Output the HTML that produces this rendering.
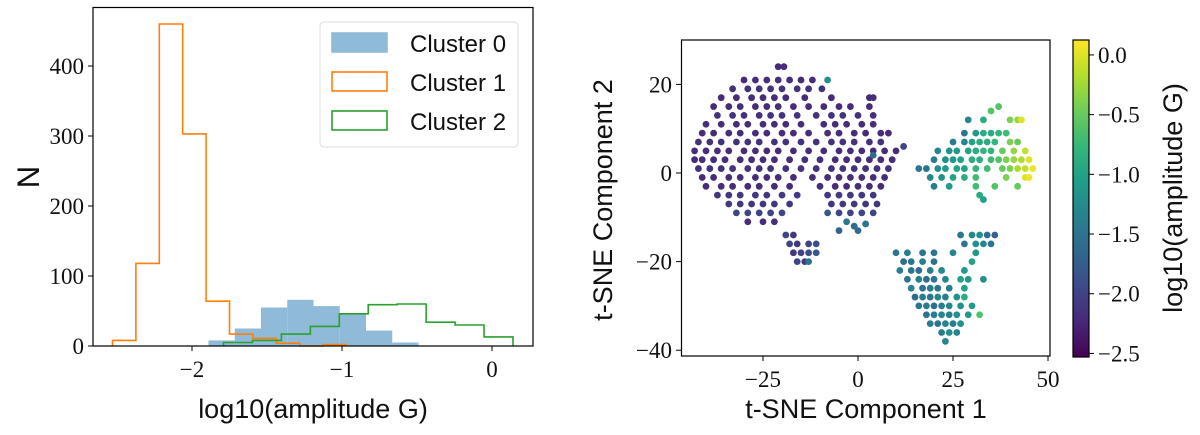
<!DOCTYPE html>
<html><head><meta charset="utf-8">
<style>
html,body{margin:0;padding:0;background:#fff;}
svg{display:block;}
.tick{font-family:"Liberation Serif",serif;font-size:23px;fill:#111;}
.lab{font-family:"Liberation Sans","DejaVu Sans",sans-serif;font-size:27px;fill:#111;}
.leg{font-family:"Liberation Sans","DejaVu Sans",sans-serif;font-size:24px;fill:#111;}
</style></head>
<body>
<svg id="fig" width="1200" height="435" xmlns="http://www.w3.org/2000/svg"></svg>
<script>
// ---------- Histogram data ----------
const c1Start = -2.53, c1Width = 0.156;
const c1Counts = [8,118,460,303,64,17,11,4,0,2];
const c0Start = -1.89, c0Width = 0.175;
const c0Counts = [8,25,55,66,57,45,22,5];
const c2Start = -1.79, c2Width = 0.193;
const c2Counts = [5,8,17,28,46,59,60,34,30,13];
const histXTicks = [-2,-1,0];
const histYTicks = [0,100,200,300,400];
const legendLabels = ["Cluster 0","Cluster 1","Cluster 2"];

// ---------- t-SNE scatter data ----------
const mainRowY = [24,21,19,17,15,13,11,9,7,5,3,1,-1,-3,-5,-7,-9,-11];
const mainRowX = [
 [-21,-19.5],
 [-30,-27,-24,-21,-18,-15,-12],
 [-33,-29,-26,-23,-20,-16,-13,-9.5],
 [-36,-32,-28,-25,-22,-19,-14,-7,3,4],
 [-38,-34,-31,-27,-24,-21,-17,-13,-9,-5,-2,3],
 [-37,-33,-30,-26,-23,-20,-16,-11,-7,-4,0,4],
 [-40,-36,-32,-29,-25,-22,-19,-15,-9,-6,-3,1,4],
 [-41,-38,-34,-31,-27,-24,-20,-17,-13,-8,-5,-1,2,6,8],
 [-42,-39,-36,-32,-29,-26,-22,-19,-15,-11,-7,-4,-1,3,6],
 [-43,-40,-37,-34,-30,-27,-24,-21,-17,-13,-9,-5,-2,1,4,7,10],
 [-43,-41,-38,-35,-31,-28,-25,-22,-18,-14,-10,-6,-3,0,3,6,9],
 [-42,-39,-36,-33,-29,-26,-23,-19,-15,-11,-7,-4,-1,2,5,8],
 [-41,-38,-34,-31,-27,-24,-21,-17,-12,-8,-5,-2,1,4,7],
 [-40,-36,-33,-29,-26,-22,-18,-10,-6,-3,0,3,6],
 [-37,-34,-31,-27,-24,-20,-16,-8,-5,-2,1,4],
 [-34,-31,-28,-25,-22,-18,-7,-4,-1,2,5],
 [-32,-29,-26,-23,-20,-5,-2,1,4],
 [-29,-25,-22]
];
const mainRowAmp = [-2.2,-2.2,-2.15,-2.2,-2.2,-2.15,-2.2,-2.2,-2.15,-2.2,-2.2,-2.15,-2.2,-2.2,-2.1,-2.1,-2.0,-2.2];
const ptX = [-8,-3,-1,2,0,-5,-8,4,12,
 -19,-17,-18,-16,-13,-11,-17,-15,-13,-11,-16,-14,-13,
 37,35,29,33,40,42,43,28,31,33,35,37,39,25,28,30,32,34,36,40,42,21,24,26,29,31,33,35,38,41,44,
 20,23,25,27,30,32,35,37,39,41,43,45,16,18,21,23,26,28,31,34,38,40,42,44,46,19,22,25,28,31,39,44,45,20,24,31,36,42,32,33,
 27,30,32,34,36,28,31,33,35,10,13,17,20,25,31,12,14,17,20,30,11,14,16,19,22,28,13,16,18,20,23,27,29,33,
 14,17,19,21,24,28,15,17,19,21,23,26,28,16,18,20,22,24,27,30,18,20,22,24,26,29,32,19,21,23,25,27,22,24,26,23];
const ptY = [21,-11,-12,-11.5,-13,-13,-9,4,6,
 -14,-14,-16,-16,-16,-16,-18,-18,-18,-18,-20,-20,-20,
 15,14,12,12,12,12,12,9,9,9,9,9,9,7,7,7,7,7,7,7,7,5,5,5,5,5,5,5,5,5,5,
 3,3,3,3,3,3,3,3,3,3,3,3,1,1,1,1,1,1,1,1,1,1,1,1,1,-1,-1,-1,-1,-1,-1,-1,-1,-3,-3,-3,-3,-3,-5,-6,
 -14,-14,-14,-14,-14,-16,-16,-16,-16,-18,-18,-18,-18,-18,-18,-20,-20,-20,-20,-20,-22,-22,-22,-22,-22,-22,-24,-24,-24,-24,-24,-24,-24,-24,
 -26,-26,-26,-26,-26,-26,-28,-28,-28,-28,-28,-28,-28,-30,-30,-30,-30,-30,-30,-30,-32,-32,-32,-32,-32,-32,-32,-34,-34,-34,-34,-34,-36,-36,-36,-38];
const ptAmp = [-1.2,-1.5,-1.6,-1.5,-1.6,-1.7,-1.8,-1.6,-2.0,
 -2.0,-2.1,-2.0,-2.1,-2.0,-1.9,-2.1,-2.0,-1.9,-1.8,-2.0,-2.1,-1.5,
 -0.6,-0.6,-1.3,-0.9,-0.4,-0.3,0.0,-1.5,-1.1,-0.9,-0.9,-0.8,-0.7,-1.4,-1.3,-1.0,-0.9,-0.9,-0.8,-0.4,-0.5,-1.3,-1.2,-1.1,-1.0,-0.9,-0.8,-0.8,-0.5,-0.3,-0.1,
 -1.4,-1.2,-1.1,-1.0,-0.9,-0.9,-0.7,-0.6,-0.4,-0.3,-0.2,0.0,-1.5,-1.5,-1.2,-1.1,-1.0,-1.0,-0.8,-0.7,-0.5,-0.4,-0.2,-0.1,0.05,-1.3,-1.2,-1.0,-0.9,-0.7,-0.4,0.0,0.05,-1.4,-1.1,-0.7,-0.6,-0.5,-0.9,-1.0,
 -1.5,-1.3,-1.2,-1.6,-1.7,-1.5,-1.2,-1.3,-1.5,-1.5,-1.4,-1.5,-1.5,-1.3,-1.1,-1.6,-1.5,-1.4,-1.5,-1.0,-1.4,-1.5,-1.6,-1.4,-1.3,-1.1,-1.5,-1.4,-1.6,-1.5,-1.3,-1.0,-1.1,-1.2,
 -1.3,-1.5,-1.4,-1.5,-1.4,-1.0,-1.6,-1.4,-1.5,-1.3,-1.4,-1.2,-0.9,-1.5,-1.4,-1.6,-1.4,-1.3,-1.2,-1.1,-1.5,-1.4,-1.3,-1.4,-1.2,-1.1,-0.6,-1.4,-1.5,-1.3,-1.4,-1.2,-1.4,-1.2,-1.3,-1.3];
const tsneXTicks = [-25,0,25,50];
const tsneYTicks = [-40,-20,0,20];
const cbarTicks = [0.0,-0.5,-1.0,-1.5,-2.0,-2.5];

// ---------- helpers ----------
const NS = "http://www.w3.org/2000/svg";
const svg = document.getElementById('fig');
function mk(tag, attrs, parent){
  const e = document.createElementNS(NS, tag);
  for (const k in attrs) e.setAttribute(k, attrs[k]);
  (parent||svg).appendChild(e);
  return e;
}
const VIR = [[68,1,84],[72,40,120],[62,74,137],[49,104,142],[38,130,142],[31,158,137],[53,183,121],[109,205,89],[180,222,44],[253,231,37]];
function viridis(t){
  t = Math.max(0, Math.min(1, t));
  const p = t*(VIR.length-1), i = Math.min(Math.floor(p), VIR.length-2), f = p-i;
  const c = VIR[i].map((v,k)=>Math.round(v+(VIR[i+1][k]-v)*f));
  return `rgb(${c[0]},${c[1]},${c[2]})`;
}
const cMin = -2.53, cMax = 0.125;
const cnorm = v => (v-cMin)/(cMax-cMin);

// ---------- Histogram axes ----------
const hx = v => 192 + (v+2)*150;
const hy = v => 346 - v*0.7;
const hg = mk('g', {});



function bars(start, width, counts, name){
  counts.forEach((c,i)=>{
    if (c<=0) return;
    const x0 = hx(start+i*width), x1 = hx(start+(i+1)*width);
    const r = mk('rect', {x:x0, y:hy(c), width:x1-x0, height:hy(0)-hy(c), fill:'#8fbbd9'}, hg);
    
    
  });
}
function stepLine(start, width, counts, color, name){
  let d = `M${hx(start)},${hy(0)}`;
  counts.forEach((c,i)=>{
    d += ` L${hx(start+i*width)},${hy(c)} L${hx(start+(i+1)*width)},${hy(c)}`;
  });
  d += ` L${hx(start+counts.length*width)},${hy(0)}`;
  const p = mk('path', {d:d, fill:'none', stroke:color, 'stroke-width':1.6}, hg);
  
  
}
bars(c0Start, c0Width, c0Counts, 'cluster0');
stepLine(c1Start, c1Width, c1Counts, '#ff7f0e', 'cluster1-step');
stepLine(c2Start, c2Width, c2Counts, '#2ca02c', 'cluster2-step');

const hf = mk('rect', {x:93, y:7.5, width:440, height:338.5, fill:'none', stroke:'#000', 'stroke-width':1.2}, hg);


histXTicks.forEach(v=>{
  mk('line', {x1:hx(v), x2:hx(v), y1:346, y2:351, stroke:'#000'}, hg);
  const t = mk('text', {x:hx(v), y:377, 'text-anchor':'middle', class:'tick'}, hg);
  t.textContent = v<0 ? '\u2212'+Math.abs(v) : String(v);
  
  
});
histYTicks.forEach(v=>{
  mk('line', {x1:88, x2:93, y1:hy(v), y2:hy(v), stroke:'#000'}, hg);
  const t = mk('text', {x:84, y:hy(v)+8, 'text-anchor':'end', class:'tick'}, hg);
  t.textContent = String(v);
  
  
});
const lg = mk('g', {}, hg);


mk('rect', {x:320, y:22, width:198, height:125, rx:4, fill:'#fff', 'fill-opacity':0.85, stroke:'#ddd'}, lg);
const legStyles = [{fill:'#8fbbd9', stroke:'#8fbbd9'},{fill:'none', stroke:'#ff7f0e'},{fill:'none', stroke:'#2ca02c'}];
legendLabels.forEach((lab,i)=>{
  const y = 43 + i*39;
  const s = legStyles[i];
  mk('rect', {x:332, y:y-10, width:55, height:19, fill:s.fill, stroke:s.stroke, 'stroke-width':1.6}, lg);
  const t = mk('text', {x:410, y:y+9, class:'leg'}, lg);
  t.textContent = lab;
  
  
});
const hxl = mk('text', {x:313, y:418, 'text-anchor':'middle', class:'lab'}, hg);
hxl.textContent = 'log10(amplitude G)';


const hyl = mk('text', {x:0, y:0, 'text-anchor':'middle', class:'lab', transform:'translate(39,177) rotate(-90) scale(1.15)'}, hg);
hyl.textContent = 'N';



// ---------- Scatter axes ----------
const sx = v => 858 + v*3.8;
const sy = v => 173 - v*4.43;
const sg = mk('g', {});


function dot(x, y, a){
  const c = mk('circle', {cx:sx(x), cy:sy(y), r:3.4, fill:viridis(cnorm(a))}, sg);
  
  
}
mainRowY.forEach((y,i)=>{
  mainRowX[i].forEach(x=>dot(x, y, mainRowAmp[i]));
});
ptX.forEach((x,i)=>dot(x, ptY[i], ptAmp[i]));

const sf = mk('rect', {x:681.5, y:40, width:368.5, height:316, fill:'none', stroke:'#000', 'stroke-width':1.2}, sg);


tsneXTicks.forEach(v=>{
  mk('line', {x1:sx(v), x2:sx(v), y1:356, y2:361, stroke:'#000'}, sg);
  const t = mk('text', {x:sx(v), y:387, 'text-anchor':'middle', class:'tick'}, sg);
  t.textContent = v<0 ? '\u2212'+Math.abs(v) : String(v);
  
  
});
tsneYTicks.forEach(v=>{
  mk('line', {x1:676, x2:681.5, y1:sy(v), y2:sy(v), stroke:'#000'}, sg);
  const t = mk('text', {x:672, y:sy(v)+8, 'text-anchor':'end', class:'tick'}, sg);
  t.textContent = v<0 ? '\u2212'+Math.abs(v) : String(v);
  
  
});
const sxl = mk('text', {x:866, y:418, 'text-anchor':'middle', class:'lab'}, sg);
sxl.textContent = 't-SNE Component 1';


const syl = mk('text', {x:0, y:0, 'text-anchor':'middle', class:'lab', transform:'translate(612,200) rotate(-90)'}, sg);
syl.textContent = 't-SNE Component 2';



// ---------- Colorbar ----------
const cg = mk('g', {});


const defs = mk('defs', {}, cg);
const grad = mk('linearGradient', {id:'vir', x1:0, y1:1, x2:0, y2:0}, defs);
VIR.forEach((c,i)=>mk('stop', {offset:(i/(VIR.length-1)), 'stop-color':`rgb(${c[0]},${c[1]},${c[2]})`}, grad));
const cbTop = 40, cbBot = 357;
const cy = v => cbBot - cnorm(v)*(cbBot-cbTop);
mk('rect', {x:1073, y:cbTop, width:16, height:cbBot-cbTop, fill:'url(#vir)', stroke:'#000', 'stroke-width':1.2}, cg);
cbarTicks.forEach(v=>{
  mk('line', {x1:1089, x2:1094, y1:cy(v), y2:cy(v), stroke:'#000'}, cg);
  const t = mk('text', {x:1098, y:cy(v)+8, class:'tick'}, cg);
  t.textContent = (v<0 ? '\u2212' : '') + Math.abs(v).toFixed(1);
  
  
});
const cl = mk('text', {x:0, y:0, 'text-anchor':'middle', class:'lab', transform:'translate(1182,198) rotate(-90)'}, cg);
cl.textContent = 'log10(amplitude G)';


</script>
</body></html>
